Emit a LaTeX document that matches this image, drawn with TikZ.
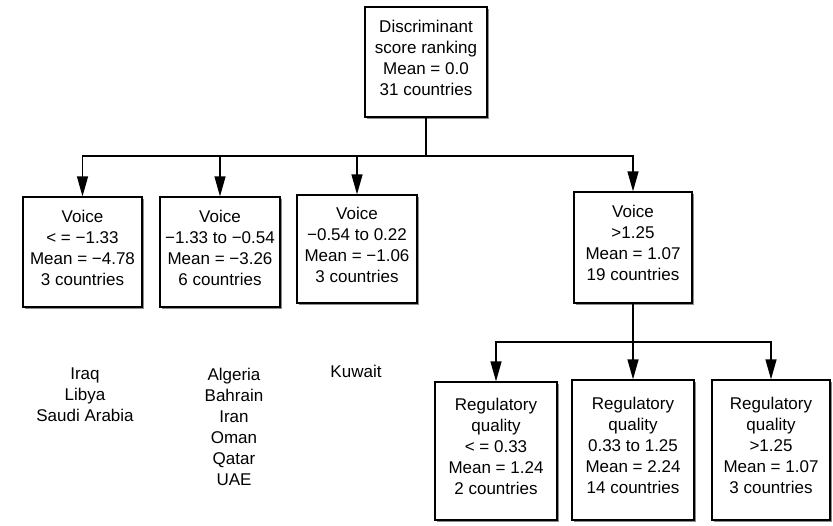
\documentclass[tikz,border=0pt]{standalone}
\usepackage{fontspec}
\setmainfont{Liberation Sans}
\usetikzlibrary{arrows.meta,shadows}
\begin{document}
\begin{tikzpicture}[x=1pt,y=-1pt,
  box/.style={draw=black,line width=1.3pt,fill=white,align=center,inner sep=0pt,
    font=\fontsize{17}{21}\selectfont,text depth=9pt,
    drop shadow={shadow xshift=1.6pt,shadow yshift=-1.6pt,fill=black!45,opacity=1}},
  conn/.style={line width=1.3pt},
  arr/.style={line width=1.3pt,-{Triangle[length=20pt,width=11pt]}},
  list/.style={align=center,font=\fontsize{17}{21}\selectfont,inner sep=0pt,anchor=north}]
\useasboundingbox (0,0) rectangle (833,525);
% boxes
\node[box,minimum width=122pt,minimum height=110pt] (top) at (426,62)
  {Discriminant\\score ranking\\Mean = 0.0\\31 countries};
\node[box,minimum width=119pt,minimum height=110pt] (b1) at (82.5,252)
  {Voice\\< = −1.33\\Mean = −4.78\\3 countries};
\node[box,minimum width=120pt,minimum height=110pt] (b2) at (220,252)
  {Voice\\−1.33 to −0.54\\Mean = −3.26\\6 countries};
\node[box,minimum width=120pt,minimum height=108pt] (b3) at (357,249)
  {Voice\\−0.54 to 0.22\\Mean = −1.06\\3 countries};
\node[box,minimum width=118pt,minimum height=111pt] (b4) at (633,247.5)
  {Voice\\>1.25\\Mean = 1.07\\19 countries};
\node[box,minimum width=122pt,minimum height=138pt] (b5) at (496,451)
  {Regulatory\\quality\\< = 0.33\\Mean = 1.24\\2 countries};
\node[box,minimum width=122pt,minimum height=140pt] (b6) at (633,450)
  {Regulatory\\quality\\0.33 to 1.25\\Mean = 2.24\\14 countries};
\node[box,minimum width=118pt,minimum height=140pt] (b7) at (771,450)
  {Regulatory\\quality\\>1.25\\Mean = 1.07\\3 countries};
% junctions
\coordinate (j1) at (426,156);
\coordinate (j2) at (633,342);
% connectors
\draw[conn] (top.south) -- (j1);
\draw[arr] (j1) -| (b1.north);
\draw[arr] (j1) -| (b2.north);
\draw[arr] (j1) -| (b3.north);
\draw[arr] (j1) -| (b4.north);
\draw[conn] (b4.south) -- (j2);
\draw[arr] (j2) -| (b5.north);
\draw[arr] (j2) -- (b6.north);
\draw[arr] (j2) -| (b7.north);
% country lists
\node[list] (l1) at (85,368) {Iraq\\Libya\\Saudi Arabia};
\node[list] (l2) at (234,368) {Algeria\\Bahrain\\Iran\\Oman\\Qatar\\UAE};
\node[list] (l3) at (356,365) {Kuwait};
\end{tikzpicture}
\end{document}
